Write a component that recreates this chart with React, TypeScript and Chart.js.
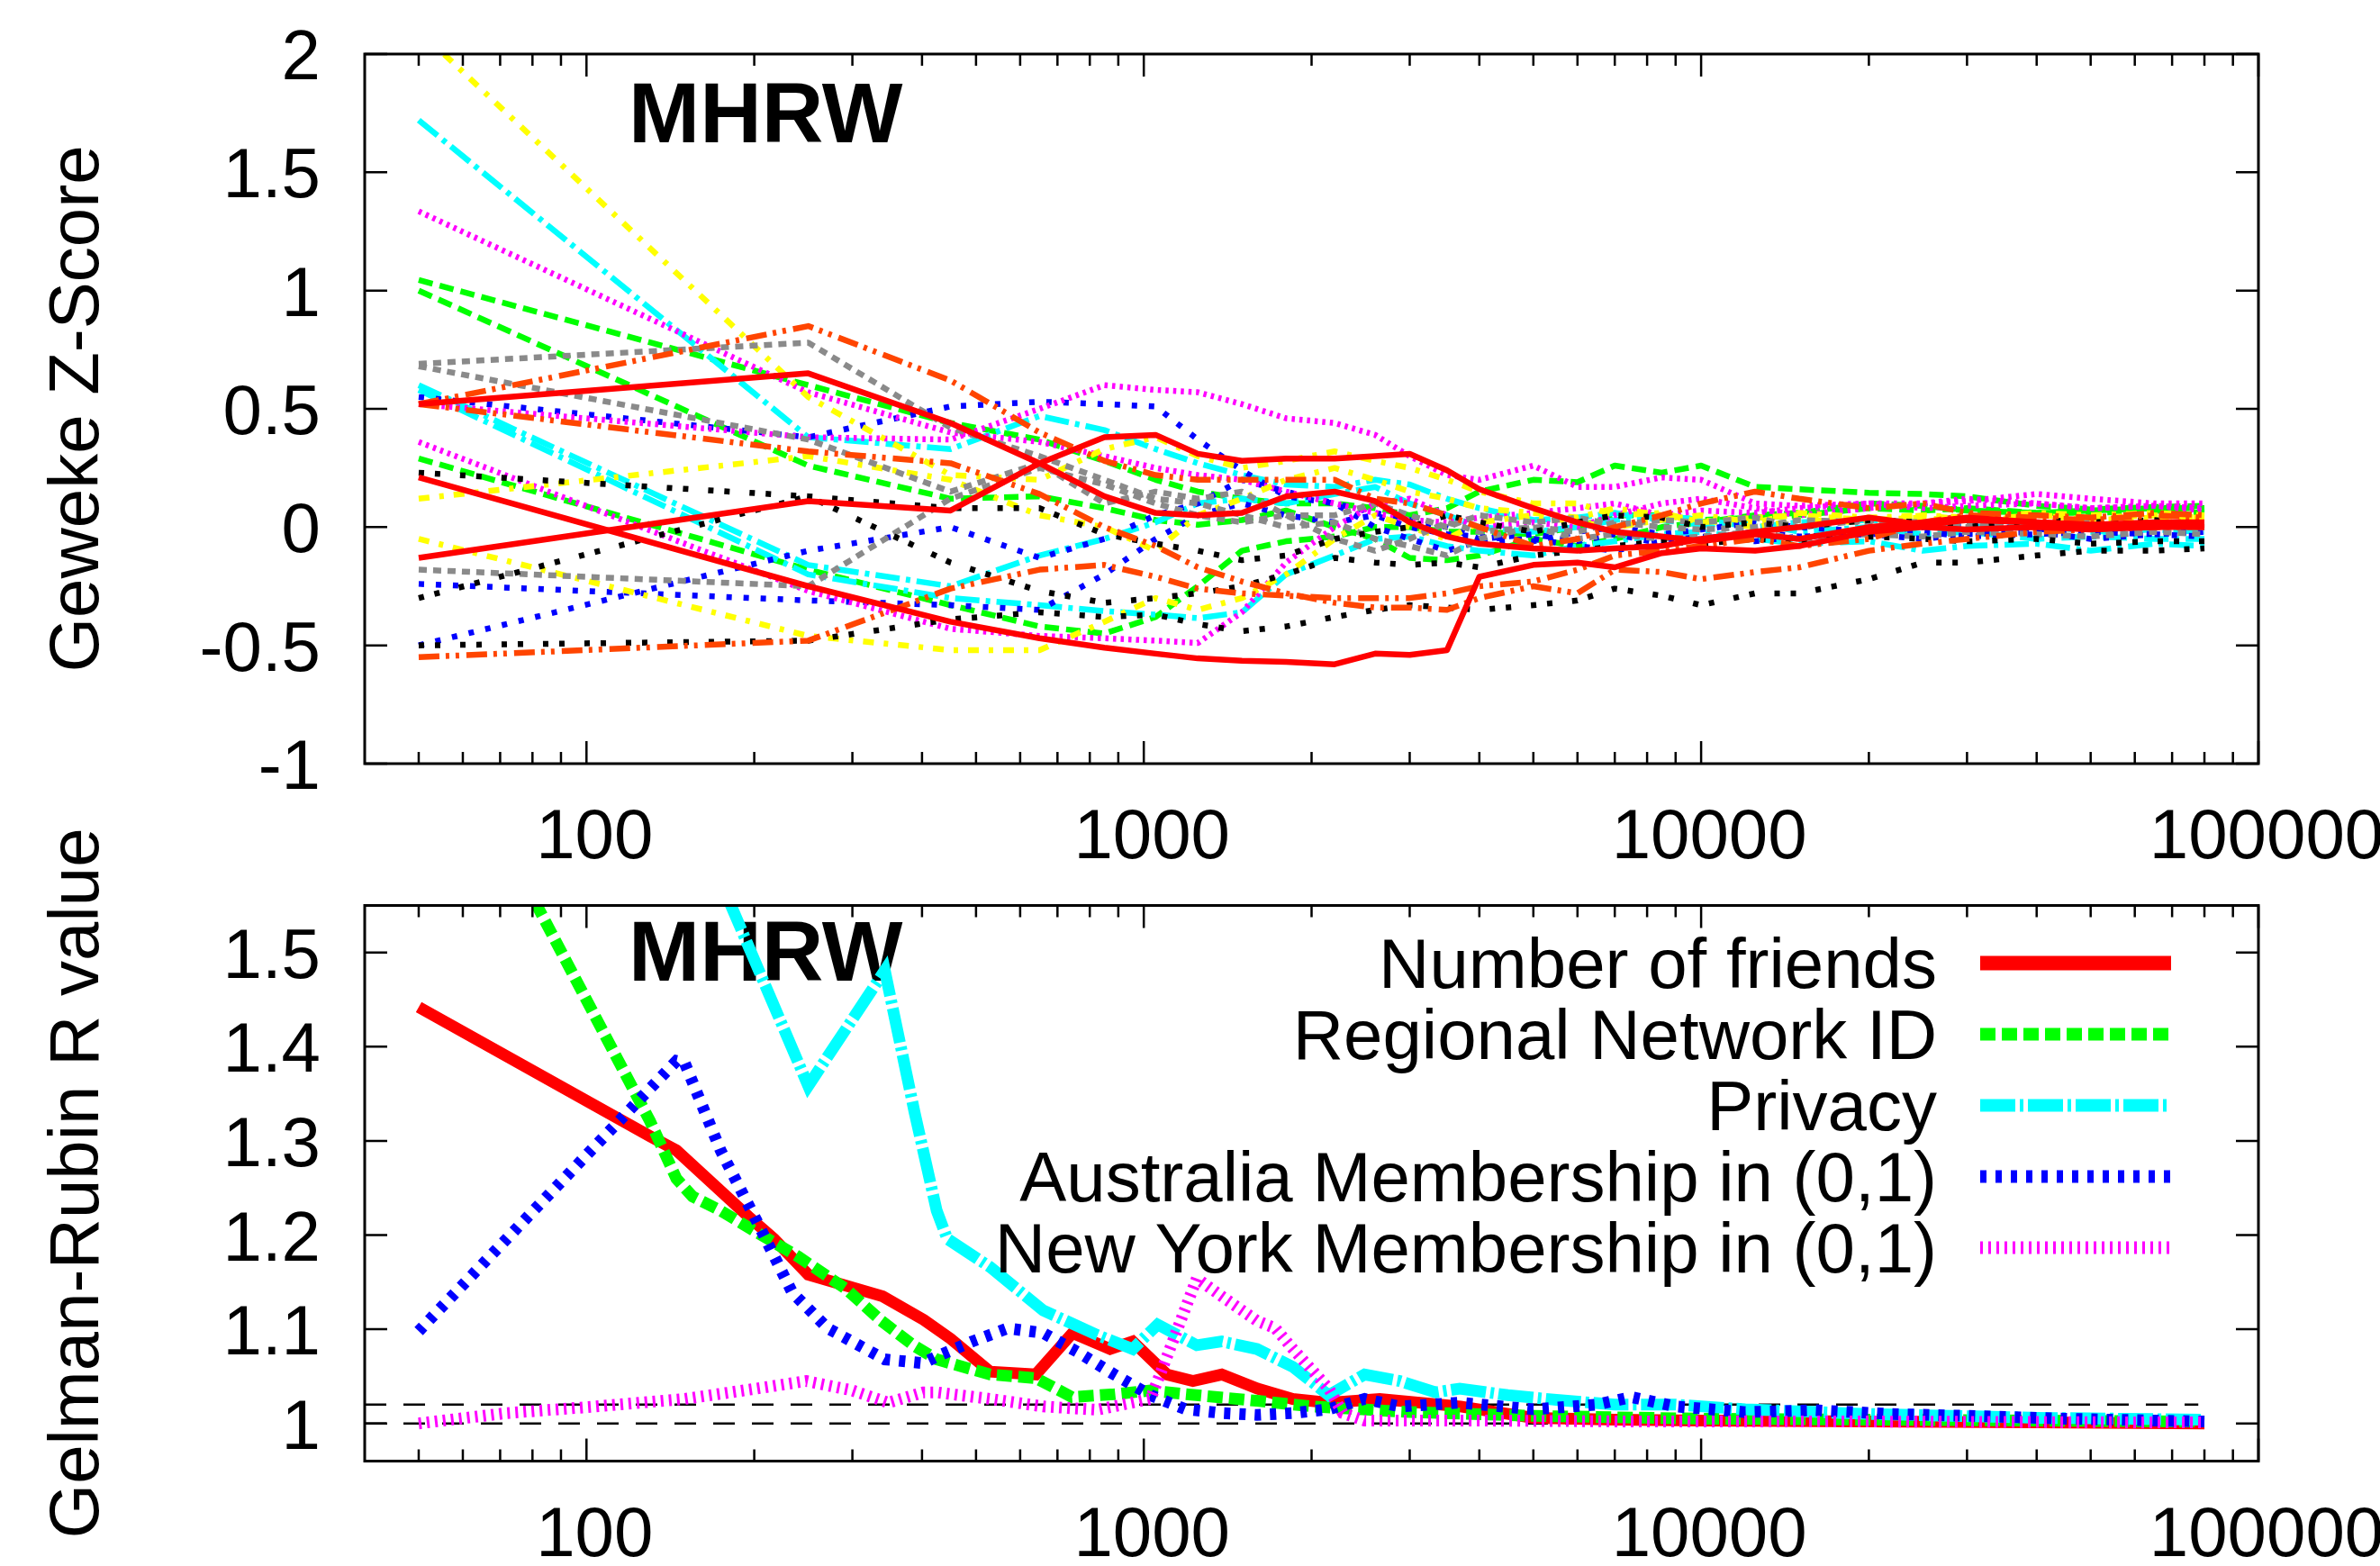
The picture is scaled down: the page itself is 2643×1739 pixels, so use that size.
import React, { useEffect, useRef } from 'react';
import { Chart, registerables } from 'chart.js';

Chart.register(...registerables);

const FONT = '"Liberation Sans", Arial, Helvetica, sans-serif';

// ---------------- DATA ----------------
// Shared iteration grid of the Geweke panel
const iterations = [50, 250, 450, 650, 850, 1050, 1250, 1500, 1800, 2200, 2600, 3000, 3500, 4000, 5000, 6000, 7000, 8500, 10000, 12500, 15000, 20000, 25000, 30000, 40000, 50000, 65000, 80000];

// Geweke Z-scores (one array per chain)
const gewekeRedA = [0.52, 0.65, 0.44, 0.27, 0.13, 0.06, 0.05, 0.06, 0.13, 0.15, 0.11, 0.02, -0.04, -0.07, -0.09, -0.1, -0.09, -0.08, -0.05, -0.02, 0.0, 0.04, 0.01, 0.03, 0.02, 0.01, 0.0, 0.01];
const gewekeRedB = [0.21, -0.25, -0.4, -0.47, -0.51, -0.535, -0.555, -0.565, -0.57, -0.58, -0.535, -0.54, -0.52, -0.21, -0.16, -0.15, -0.17, -0.11, -0.09, -0.1, -0.08, -0.02, 0.0, -0.01, 0.0, -0.01, 0.0, 0.0];
const gewekeRedC = [-0.13, 0.11, 0.07, 0.27, 0.38, 0.39, 0.31, 0.28, 0.29, 0.29, 0.3, 0.31, 0.24, 0.16, 0.08, 0.02, -0.02, -0.04, -0.06, -0.03, -0.05, 0.0, 0.02, 0.04, 0.02, 0.01, 0.02, 0.02];
const gewekeGreenA = [1.045, 0.6, 0.44, 0.37, 0.28, 0.2, 0.15, 0.12, 0.1, 0.1, 0.08, 0.05, 0.08, 0.15, 0.2, 0.19, 0.26, 0.23, 0.26, 0.17, 0.16, 0.145, 0.14, 0.13, 0.09, 0.075, 0.085, 0.09];
const gewekeGreenB = [1.0, 0.26, 0.12, 0.13, 0.08, 0.03, 0.01, 0.03, 0.07, 0.0, -0.05, -0.13, -0.14, -0.12, -0.05, -0.08, -0.05, 0.0, 0.02, 0.05, 0.06, 0.1, 0.09, 0.07, 0.06, 0.06, 0.07, 0.06];
const gewekeGreenC = [0.29, -0.18, -0.33, -0.42, -0.45, -0.38, -0.25, -0.1, -0.06, -0.04, 0.0, 0.0, -0.02, -0.02, -0.03, 0.0, 0.05, 0.05, 0.03, 0.04, 0.05, 0.08, 0.07, 0.08, 0.06, 0.07, 0.08, 0.08];
const gewekeCyanA = [1.72, 0.38, 0.33, 0.47, 0.41, 0.33, 0.27, 0.22, 0.18, 0.17, 0.2, 0.18, 0.12, 0.08, 0.03, 0.04, 0.06, 0.03, 0.01, 0.02, -0.02, 0.0, -0.03, -0.02, -0.05, -0.04, -0.05, -0.05];
const gewekeCyanB = [0.6, -0.16, -0.25, -0.12, -0.05, 0.02, 0.1, 0.12, 0.1, 0.14, 0.17, 0.1, 0.05, 0.0, -0.02, 0.0, 0.03, 0.05, 0.03, 0.0, 0.02, 0.03, 0.02, 0.0, 0.01, -0.02, -0.01, -0.02];
const gewekeCyanC = [0.58, -0.2, -0.3, -0.33, -0.355, -0.37, -0.385, -0.36, -0.2, -0.12, -0.05, -0.04, -0.08, -0.1, -0.12, -0.08, -0.06, -0.03, -0.02, -0.05, -0.07, -0.06, -0.1, -0.08, -0.07, -0.1, -0.07, -0.08];
const gewekeBlueA = [0.55, 0.38, 0.51, 0.53, 0.52, 0.51, 0.37, 0.24, 0.13, 0.1, 0.06, 0.03, 0.0, -0.05, -0.03, -0.06, -0.03, -0.07, -0.05, -0.02, -0.04, -0.03, -0.05, -0.03, -0.02, -0.05, -0.03, -0.04];
const gewekeBlueB = [-0.24, -0.31, -0.33, -0.35, -0.2, -0.05, 0.05, 0.1, 0.05, 0.02, 0.05, 0.0, -0.03, -0.04, -0.06, -0.02, 0.0, -0.03, -0.01, 0.02, 0.0, -0.02, 0.0, 0.01, -0.01, 0.0, 0.01, 0.0];
const gewekeBlueC = [-0.5, -0.1, 0.0, -0.13, -0.05, 0.05, 0.1, 0.2, 0.15, 0.1, 0.0, -0.05, -0.1, -0.06, -0.05, -0.08, -0.1, -0.06, -0.04, -0.06, -0.04, -0.03, -0.02, -0.04, -0.03, -0.02, -0.03, -0.02];
const gewekeMagentaA = [1.335, 0.57, 0.4, 0.36, 0.3, 0.25, 0.22, 0.2, 0.15, 0.1, 0.06, 0.03, 0.02, 0.04, 0.06, 0.08, 0.1, 0.05, 0.07, 0.06, 0.08, 0.1, 0.08, 0.09, 0.1, 0.08, 0.09, 0.08];
const gewekeMagentaB = [0.36, -0.27, -0.43, -0.46, -0.47, -0.48, -0.49, -0.36, -0.15, 0.0, 0.1, 0.12, 0.05, 0.0, 0.02, 0.0, 0.05, 0.1, 0.12, 0.08, 0.05, 0.08, 0.1, 0.12, 0.1, 0.08, 0.09, 0.07];
const gewekeMagentaC = [0.52, 0.38, 0.37, 0.5, 0.6, 0.58, 0.57, 0.52, 0.46, 0.44, 0.39, 0.3, 0.22, 0.2, 0.26, 0.17, 0.17, 0.21, 0.2, 0.1, 0.09, 0.1, 0.1, 0.11, 0.14, 0.12, 0.1, 0.1];
const gewekeYellowA = [2.1, 0.55, 0.22, 0.2, 0.33, 0.38, 0.3, 0.25, 0.28, 0.32, 0.28, 0.25, 0.2, 0.15, 0.1, 0.1, 0.05, 0.06, 0.02, 0.04, 0.05, 0.03, 0.04, 0.02, 0.05, 0.03, 0.04, 0.04];
const gewekeYellowB = [0.12, 0.3, 0.2, 0.05, 0.0, -0.1, 0.05, 0.12, 0.2, 0.25, 0.2, 0.15, 0.12, 0.08, 0.06, 0.04, 0.08, 0.05, 0.03, 0.0, 0.03, 0.02, 0.05, 0.04, 0.06, 0.05, 0.06, 0.05];
const gewekeYellowC = [-0.05, -0.46, -0.52, -0.52, -0.4, -0.3, -0.35, -0.3, -0.2, -0.05, 0.05, 0.0, -0.05, 0.02, 0.05, 0.02, 0.0, 0.03, 0.05, 0.02, 0.06, 0.04, 0.05, 0.03, 0.05, 0.04, 0.05, 0.04];
const gewekeGrayA = [0.69, 0.78, 0.42, 0.3, 0.2, 0.12, 0.1, 0.05, 0.0, 0.02, -0.05, -0.08, -0.12, -0.05, 0.0, -0.02, 0.02, 0.0, -0.01, 0.0, 0.03, 0.02, 0.01, 0.0, 0.02, 0.01, 0.0, 0.01];
const gewekeGrayB = [0.68, 0.37, 0.15, 0.27, 0.1, 0.15, 0.12, 0.15, 0.05, 0.05, 0.1, 0.05, 0.0, 0.05, 0.02, 0.04, 0.01, 0.03, 0.02, 0.04, 0.0, 0.03, 0.02, 0.01, 0.0, 0.02, 0.01, 0.0];
const gewekeGrayC = [-0.18, -0.25, 0.12, 0.25, 0.18, 0.1, 0.05, 0.02, 0.05, -0.05, -0.1, -0.05, 0.02, -0.02, 0.0, -0.05, -0.03, -0.05, -0.04, -0.02, -0.05, -0.03, -0.04, -0.02, -0.03, -0.04, -0.02, -0.03];
const gewekeBlackA = [0.23, 0.13, 0.08, 0.08, -0.03, -0.07, -0.1, -0.14, -0.12, -0.05, -0.02, 0.0, 0.05, 0.02, -0.02, 0.02, 0.05, 0.04, 0.0, 0.02, 0.0, 0.03, 0.02, 0.0, 0.03, 0.02, 0.03, 0.01];
const gewekeBlackB = [-0.3, 0.13, -0.15, -0.27, -0.32, -0.3, -0.28, -0.25, -0.2, -0.13, -0.15, -0.16, -0.15, -0.17, -0.12, -0.1, -0.08, -0.06, -0.07, -0.05, -0.06, -0.04, -0.05, -0.06, -0.05, -0.07, -0.06, -0.06];
const gewekeBlackC = [-0.5, -0.48, -0.39, -0.36, -0.38, -0.37, -0.41, -0.44, -0.42, -0.38, -0.35, -0.33, -0.34, -0.35, -0.33, -0.31, -0.26, -0.29, -0.33, -0.28, -0.28, -0.22, -0.15, -0.15, -0.12, -0.1, -0.1, -0.09];
const gewekeOrangeA = [0.52, 0.85, 0.62, 0.4, 0.28, 0.22, 0.2, 0.2, 0.2, 0.2, 0.12, 0.1, 0.05, 0.0, -0.08, -0.05, 0.0, 0.05, 0.1, 0.15, 0.12, 0.08, 0.1, 0.06, 0.05, 0.04, 0.06, 0.05];
const gewekeOrangeB = [0.52, 0.32, 0.27, 0.14, 0.0, -0.08, -0.17, -0.23, -0.28, -0.32, -0.34, -0.34, -0.35, -0.3, -0.25, -0.28, -0.18, -0.19, -0.22, -0.19, -0.17, -0.1, -0.07, -0.05, -0.02, -0.01, 0.0, 0.0];
const gewekeOrangeC = [-0.55, -0.48, -0.26, -0.18, -0.16, -0.21, -0.26, -0.28, -0.29, -0.3, -0.3, -0.3, -0.28, -0.25, -0.23, -0.18, -0.12, -0.1, -0.08, -0.05, -0.08, -0.05, 0.02, 0.05, 0.04, 0.03, 0.05, 0.04];

// Gelman-Rubin R values: [iteration, R]
const rNumberOfFriends: [number, number][] = [[50, 1.442], [130, 1.305], [145, 1.29], [195, 1.22], [217, 1.196], [250, 1.158], [340, 1.135], [403, 1.11], [450, 1.09], [530, 1.055], [640, 1.052], [745, 1.096], [870, 1.079], [955, 1.087], [1100, 1.052], [1225, 1.045], [1380, 1.052], [1600, 1.037], [1850, 1.026], [2150, 1.022], [2650, 1.026], [3700, 1.018], [5000, 1.006], [7000, 1.004], [10000, 1.003], [20000, 1.002], [40000, 1.001], [80000, 1.0]];
const rRegionalNetwork: [number, number][] = [[50, 1.8], [82, 1.547], [130, 1.321], [145, 1.26], [155, 1.241], [174, 1.226], [202, 1.203], [240, 1.177], [292, 1.143], [338, 1.109], [386, 1.083], [425, 1.068], [530, 1.052], [641, 1.048], [743, 1.028], [885, 1.031], [1028, 1.035], [1189, 1.031], [1596, 1.024], [2010, 1.018], [3000, 1.012], [5000, 1.008], [10000, 1.005], [20000, 1.004], [40000, 1.003], [80000, 1.002]];
const rPrivacy: [number, number][] = [[50, 2.3], [182, 1.549], [250, 1.3585], [343, 1.481], [388, 1.33], [425, 1.226], [444, 1.196], [530, 1.166], [660, 1.12], [824, 1.094], [955, 1.079], [1059, 1.105], [1245, 1.083], [1380, 1.087], [1596, 1.079], [1852, 1.06], [2147, 1.03], [2490, 1.052], [2880, 1.045], [3340, 1.033], [3690, 1.037], [4500, 1.03], [5500, 1.025], [7000, 1.02], [9000, 1.02], [12000, 1.015], [20000, 1.01], [40000, 1.006], [80000, 1.004]];
const rAustralia: [number, number][] = [[50, 1.098], [145, 1.385], [150, 1.383], [174, 1.29], [202, 1.215], [234, 1.139], [271, 1.101], [343, 1.068], [402, 1.064], [425, 1.071], [492, 1.087], [570, 1.101], [660, 1.096], [765, 1.075], [885, 1.052], [1028, 1.03], [1189, 1.015], [1380, 1.011], [1596, 1.009], [1852, 1.011], [2147, 1.015], [2490, 1.026], [2880, 1.018], [3690, 1.022], [5000, 1.015], [6500, 1.02], [7500, 1.028], [9000, 1.018], [12000, 1.012], [16000, 1.014], [22000, 1.01], [30000, 1.008], [45000, 1.005], [80000, 1.002]];
const rNewYork: [number, number][] = [[50, 1.0], [72, 1.011], [104, 1.018], [150, 1.026], [202, 1.037], [248, 1.045], [300, 1.035], [348, 1.022], [402, 1.033], [425, 1.033], [530, 1.026], [660, 1.018], [824, 1.0145], [1028, 1.026], [1089, 1.064], [1245, 1.154], [1380, 1.135], [1596, 1.109], [1722, 1.101], [1852, 1.079], [2147, 1.037], [2275, 1.011], [2490, 1.003], [4000, 1.003], [8000, 1.002], [20000, 1.002], [80000, 1.001]];
const rReferenceLevels = [1.0, 1.02];
const rReferenceSpan = [40, 78000];

const attributeNames = ['Number of friends', 'Regional Network ID', 'Privacy', 'Australia Membership in (0,1)', 'New York Membership in (0,1)'];

// Axes
const xRange = [40, 100000];
const xTickValues = [100, 1000, 10000, 100000];
const xTickLabels = ['100', '1000', '10000', '100000'];
const gewekeRange = [-1, 2];
const gewekeTickValues = [-1, -0.5, 0, 0.5, 1, 1.5, 2];
const gewekeTickLabels = ['-1', '-0.5', '0', '0.5', '1', '1.5', '2'];
const rRange = [0.96, 1.55];
const rTickValues = [1, 1.1, 1.2, 1.3, 1.4, 1.5];
const rTickLabels = ['1', '1.1', '1.2', '1.3', '1.4', '1.5'];
const panelTitle = 'MHRW';
const gewekeTitle = 'Geweke Z-Score';
const rTitle = 'Gelman-Rubin R value';

// ---------------- STYLES ----------------
type Style = { color: string; width: number; dash: number[] };
const TW = 6.5;
const topStyles: Record<string, Style> = {
  red: { color: '#ff0000', width: TW, dash: [] },
  green: { color: '#00ff00', width: TW, dash: [16, 8] },
  cyan: { color: '#00ffff', width: TW, dash: [27, 7, 5, 7] },
  blue: { color: '#0000ff', width: TW, dash: [6, 13] },
  magenta: { color: '#ff00ff', width: TW, dash: [3.5, 5] },
  yellow: { color: '#ffff00', width: TW, dash: [12, 11, 5, 11] },
  gray: { color: '#8a8a8a', width: TW, dash: [9, 7] },
  black: { color: '#000000', width: TW, dash: [6, 12, 6, 22] },
  orange: { color: '#ff4500', width: TW, dash: [23, 7, 4, 7, 4, 8] },
};
const BW = 13;
const bottomStyles: Style[] = [
  { color: '#ff0000', width: BW, dash: [] },
  { color: '#00ff00', width: BW, dash: [17, 7] },
  { color: '#00ffff', width: BW, dash: [39, 5, 4, 5] },
  { color: '#0000ff', width: BW, dash: [7, 10] },
  { color: '#ff00ff', width: BW, dash: [3, 6] },
];

const topSeries: { values: number[]; style: string }[] = [
  { values: gewekeGreenA, style: 'green' }, { values: gewekeGreenB, style: 'green' }, { values: gewekeGreenC, style: 'green' },
  { values: gewekeCyanA, style: 'cyan' }, { values: gewekeCyanB, style: 'cyan' }, { values: gewekeCyanC, style: 'cyan' },
  { values: gewekeBlueA, style: 'blue' }, { values: gewekeBlueB, style: 'blue' }, { values: gewekeBlueC, style: 'blue' },
  { values: gewekeMagentaA, style: 'magenta' }, { values: gewekeMagentaB, style: 'magenta' }, { values: gewekeMagentaC, style: 'magenta' },
  { values: gewekeYellowA, style: 'yellow' }, { values: gewekeYellowB, style: 'yellow' }, { values: gewekeYellowC, style: 'yellow' },
  { values: gewekeGrayA, style: 'gray' }, { values: gewekeGrayB, style: 'gray' }, { values: gewekeGrayC, style: 'gray' },
  { values: gewekeBlackA, style: 'black' }, { values: gewekeBlackB, style: 'black' }, { values: gewekeBlackC, style: 'black' },
  { values: gewekeOrangeA, style: 'orange' }, { values: gewekeOrangeB, style: 'orange' }, { values: gewekeOrangeC, style: 'orange' },
  { values: gewekeRedA, style: 'red' }, { values: gewekeRedB, style: 'red' }, { values: gewekeRedC, style: 'red' },
];
const bottomSeries = [rNumberOfFriends, rRegionalNetwork, rPrivacy, rAustralia, rNewYork];

// ---------------- LAYOUT ----------------
const W = 2643;
const TOP_H = 990;
const BOT_TOP = 880;
const BOT_H = 859;
const AREA_LEFT = 405;
const AREA_RIGHT = 2508;

type FrameCfg = {
  yTicks: number[];
  yLabels: string[];
  yTitle: string;
  titleBaseline: number; // from chart-area top
  legend?: { names: string[]; styles: Style[] };
};

function minorXTicks(): number[] {
  const out: number[] = [];
  for (let d = 10; d <= 10000; d *= 10) {
    for (let m = 2; m <= 9; m++) {
      const v = m * d;
      if (v > xRange[0] && v < xRange[1]) out.push(v);
    }
  }
  return out;
}

function framePlugin(cfg: FrameCfg) {
  return {
    id: 'gnuplotFrame',
    beforeDatasetsDraw(chart: any) {
      const { ctx, chartArea: a } = chart;
      ctx.save();
      ctx.fillStyle = '#000';
      ctx.font = `bold 95px ${FONT}`;
      ctx.textAlign = 'left';
      ctx.textBaseline = 'alphabetic';
      ctx.fillText(panelTitle, 698, a.top + cfg.titleBaseline);
      ctx.restore();
    },
    afterDatasetsDraw(chart: any) {
      const { ctx, chartArea: a, scales } = chart;
      const xs = scales.x;
      const ys = scales.y;
      ctx.save();
      ctx.setLineDash([]);
      ctx.strokeStyle = '#000';
      ctx.lineWidth = 3;
      ctx.strokeRect(a.left, a.top, a.right - a.left, a.bottom - a.top);

      ctx.lineWidth = 2.5;
      ctx.beginPath();
      const tick = (px: number, len: number) => {
        ctx.moveTo(px, a.bottom); ctx.lineTo(px, a.bottom - len);
        ctx.moveTo(px, a.top); ctx.lineTo(px, a.top + len);
      };
      xTickValues.forEach((v) => tick(xs.getPixelForValue(v), 25));
      minorXTicks().forEach((v) => tick(xs.getPixelForValue(v), 13));
      cfg.yTicks.forEach((v) => {
        const py = ys.getPixelForValue(v);
        ctx.moveTo(a.left, py); ctx.lineTo(a.left + 25, py);
        ctx.moveTo(a.right, py); ctx.lineTo(a.right - 25, py);
      });
      ctx.stroke();

      ctx.fillStyle = '#000';
      ctx.font = `78px ${FONT}`;
      ctx.textBaseline = 'alphabetic';
      ctx.textAlign = 'right';
      cfg.yTicks.forEach((v, i) => {
        ctx.fillText(cfg.yLabels[i], a.left - 49, ys.getPixelForValue(v) + 28);
      });
      ctx.textAlign = 'center';
      xTickValues.forEach((v, i) => {
        ctx.fillText(xTickLabels[i], xs.getPixelForValue(v) + 9, a.bottom + 105);
      });

      ctx.save();
      ctx.translate(109, (a.top + a.bottom) / 2);
      ctx.rotate(-Math.PI / 2);
      ctx.textAlign = 'center';
      ctx.fillText(cfg.yTitle, 0, 0);
      ctx.restore();

      if (cfg.legend) {
        cfg.legend.names.forEach((name, i) => {
          const st = cfg.legend!.styles[i];
          const ry = a.top + 64 + 79 * i;
          ctx.fillStyle = '#000';
          ctx.textAlign = 'right';
          ctx.fillText(name, 2151, ry + 27);
          ctx.beginPath();
          ctx.strokeStyle = st.color;
          ctx.lineWidth = i === 0 ? st.width + 3 : st.width + 1;
          ctx.setLineDash(st.dash);
          ctx.moveTo(2199, ry);
          ctx.lineTo(2411, ry);
          ctx.stroke();
        });
        ctx.setLineDash([]);
      }
      ctx.restore();
    },
  };
}

function baseOptions(padding: any, yMin: number, yMax: number) {
  return {
    responsive: false,
    maintainAspectRatio: false,
    animation: false as const,
    devicePixelRatio: 1,
    events: [] as any[],
    layout: { padding },
    plugins: { legend: { display: false }, tooltip: { enabled: false }, title: { display: false } },
    elements: { point: { radius: 0 }, line: { tension: 0 } },
    scales: {
      x: { type: 'logarithmic' as const, min: xRange[0], max: xRange[1], display: false },
      y: { type: 'linear' as const, min: yMin, max: yMax, display: false },
    },
  };
}

export default function App() {
  const topRef = useRef<HTMLCanvasElement>(null);
  const botRef = useRef<HTMLCanvasElement>(null);

  useEffect(() => {
    const topDatasets = topSeries.map((s, i) => {
      const st = topStyles[s.style];
      return {
        data: iterations.map((x, k) => ({ x, y: s.values[k] })),
        borderColor: st.color,
        borderWidth: st.width,
        borderDash: st.dash,
        borderCapStyle: 'butt',
        borderJoinStyle: 'round',
        pointRadius: 0,
        fill: false,
        order: -i,
      };
    });
    const topChart = new Chart(topRef.current!, {
      type: 'line',
      data: { datasets: topDatasets as any },
      options: baseOptions({ left: AREA_LEFT, right: W - AREA_RIGHT, top: 60, bottom: TOP_H - 848 }, gewekeRange[0], gewekeRange[1]) as any,
      plugins: [framePlugin({ yTicks: gewekeTickValues, yLabels: gewekeTickLabels, yTitle: gewekeTitle, titleBaseline: 98 })],
    });

    const refDatasets = rReferenceLevels.map((lvl, i) => ({
      data: rReferenceSpan.map((x) => ({ x, y: lvl })),
      borderColor: '#000000',
      borderWidth: 2.5,
      borderDash: [24, 19],
      pointRadius: 0,
      fill: false,
      order: 100 - i,
    }));
    const rDatasets = bottomSeries.map((pts, i) => ({
      data: pts.map(([x, y]) => ({ x, y })),
      borderColor: bottomStyles[i].color,
      borderWidth: bottomStyles[i].width,
      borderDash: bottomStyles[i].dash,
      borderCapStyle: 'butt',
      borderJoinStyle: 'miter',
      pointRadius: 0,
      fill: false,
      order: -i,
    }));
    const botChart = new Chart(botRef.current!, {
      type: 'line',
      data: { datasets: [...refDatasets, ...rDatasets] as any },
      options: baseOptions({ left: AREA_LEFT, right: W - AREA_RIGHT, top: 1005.5 - BOT_TOP, bottom: BOT_H - (1622.5 - BOT_TOP) }, rRange[0], rRange[1]) as any,
      plugins: [framePlugin({ yTicks: rTickValues, yLabels: rTickLabels, yTitle: rTitle, titleBaseline: 83.5, legend: { names: attributeNames, styles: bottomStyles } })],
    });

    return () => {
      topChart.destroy();
      botChart.destroy();
    };
  }, []);

  return (
    <div style={{ position: 'absolute', left: 0, top: 0, width: W, height: 1739, background: '#ffffff', overflow: 'hidden' }}>
      <canvas ref={topRef} width={W} height={TOP_H} style={{ position: 'absolute', left: 0, top: 0, width: W, height: TOP_H, display: 'block' }} />
      <canvas ref={botRef} width={W} height={BOT_H} style={{ position: 'absolute', left: 0, top: BOT_TOP, width: W, height: BOT_H, display: 'block', zIndex: 1 }} />
    </div>
  );
}
